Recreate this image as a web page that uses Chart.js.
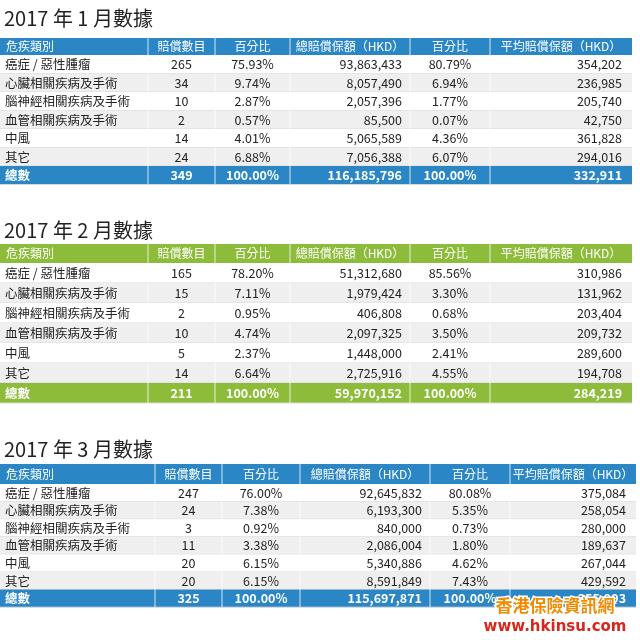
<!DOCTYPE html>
<html><head><meta charset="utf-8">
<script src="https://cdn.jsdelivr.net/npm/chart.js@4"></script>
<style>html,body{margin:0;padding:0;background:#fff}#c{width:640px;height:640px}</style>
</head><body><div id="c"><canvas id="cv" width="640" height="640"></canvas></div>
<script>
const headers = ["危疾類別","賠償數目","百分比","總賠償保額（HKD）","百分比","平均賠償保額（HKD）"];
const categories = ["癌症 / 惡性腫瘤","心臟相關疾病及手術","腦神經相關疾病及手術","血管相關疾病及手術","中風","其它","總數"];
const titles = ["2017 年 1 月數據","2017 年 2 月數據","2017 年 3 月數據"];
const jan = [
 ["265","75.93%","93,863,433","80.79%","354,202"],
 ["34","9.74%","8,057,490","6.94%","236,985"],
 ["10","2.87%","2,057,396","1.77%","205,740"],
 ["2","0.57%","85,500","0.07%","42,750"],
 ["14","4.01%","5,065,589","4.36%","361,828"],
 ["24","6.88%","7,056,388","6.07%","294,016"],
 ["349","100.00%","116,185,796","100.00%","332,911"]];
const feb = [
 ["165","78.20%","51,312,680","85.56%","310,986"],
 ["15","7.11%","1,979,424","3.30%","131,962"],
 ["2","0.95%","406,808","0.68%","203,404"],
 ["10","4.74%","2,097,325","3.50%","209,732"],
 ["5","2.37%","1,448,000","2.41%","289,600"],
 ["14","6.64%","2,725,916","4.55%","194,708"],
 ["211","100.00%","59,970,152","100.00%","284,219"]];
const mar = [
 ["247","76.00%","92,645,832","80.08%","375,084"],
 ["24","7.38%","6,193,300","5.35%","258,054"],
 ["3","0.92%","840,000","0.73%","280,000"],
 ["11","3.38%","2,086,004","1.80%","189,637"],
 ["20","6.15%","5,340,886","4.62%","267,044"],
 ["20","6.15%","8,591,849","7.43%","429,592"],
 ["325","100.00%","115,697,871","100.00%","355,993"]];
const tablesData = [jan, feb, mar];

// layout
const layouts = [
 {titleY:18, top:38, hh:17, rh:18.5, color:"#2b86c5", cols:[0,148,215,290,410,490,632]},
 {titleY:230, top:244, hh:19, rh:20, color:"#8dbb3a", cols:[0,148,215,290,410,490,632]},
 {titleY:449, top:464, hh:20, rh:17.6, color:"#2b86c5", cols:[0,155,222,300,430,510,636]}
];

const tablePlugin = {
 id:'tables',
 afterDraw(chart){
  const ctx = chart.ctx, X = chart.scales.x, Y = chart.scales.y;
  const px = v => X.getPixelForValue(v), py = v => Y.getPixelForValue(v);
  layouts.forEach((L, t) => {
   const data = tablesData[t];
   ctx.fillStyle = "#222"; ctx.font = "20px 'Noto Sans CJK TC'"; ctx.textBaseline="middle"; ctx.textAlign="left";
   ctx.fillText(titles[t], px(4), py(L.titleY));
   // header
   ctx.fillStyle = L.color;
   ctx.fillRect(px(0), py(L.top), px(L.cols[6])-px(0), py(L.top+L.hh)-py(L.top));
   ctx.font = "12px 'Noto Sans CJK TC'"; ctx.fillStyle="#fff";
   headers.forEach((h,i)=>{
     const a=L.cols[i], b=L.cols[i+1];
     if(i===0){ctx.textAlign="left";ctx.fillText(h,px(a+6),py(L.top+L.hh/2));}
     else {ctx.textAlign="center";ctx.fillText(h,px((a+b)/2),py(L.top+L.hh/2));}
   });
   for(let r=0;r<7;r++){
     const y0 = L.top+L.hh+r*L.rh, total = r===6;
     ctx.fillStyle = total ? L.color : (r%2===0 ? "#ffffff" : "#efefef");
     ctx.fillRect(px(0), py(y0), px(L.cols[6])-px(0), py(y0+L.rh)-py(y0));
     ctx.strokeStyle="#d8d8d8"; ctx.lineWidth=1;
     ctx.beginPath(); ctx.moveTo(px(0),py(y0+L.rh)); ctx.lineTo(px(L.cols[6]),py(y0+L.rh)); ctx.stroke();
     const yc = py(y0+L.rh/2);
     ctx.fillStyle = total ? "#fff" : "#222";
     ctx.font = (total?"bold ":"")+"12.5px 'Noto Sans CJK TC'";
     ctx.textAlign="left"; ctx.fillText(categories[r], px(5), yc);
     const row=data[r];
     const cx=[(L.cols[1]+L.cols[2])/2,(L.cols[2]+L.cols[3])/2,L.cols[4]-8,(L.cols[4]+L.cols[5])/2,L.cols[6]-10];
     const al=["center","center","right","center","right"];
     row.forEach((v,i)=>{ctx.textAlign=al[i]; ctx.fillText(v,px(cx[i]),yc);});
   }
   // column separators
   ctx.strokeStyle="rgba(255,255,255,0.8)";
   for(let i=1;i<6;i++){ctx.beginPath();ctx.moveTo(px(L.cols[i]),py(L.top));ctx.lineTo(px(L.cols[i]),py(L.top+L.hh+7*L.rh));ctx.stroke();}
  });
  // watermark
  ctx.textAlign="center"; ctx.font="bold 17px 'Noto Sans CJK TC'";
  ctx.strokeStyle="#fff"; ctx.lineWidth=3; ctx.fillStyle="#f08a00";
  ctx.strokeText("香港保險資訊網", px(555), py(606)); ctx.fillText("香港保險資訊網", px(555), py(606));
  ctx.font="bold 15px 'DejaVu Sans'"; ctx.fillStyle="#d9261c";
  ctx.strokeText("www.hkinsu.com", px(555), py(627)); ctx.fillText("www.hkinsu.com", px(555), py(627));
 }
};

new Chart(document.getElementById('cv'), {
 type:'scatter',
 data:{datasets:[{data:[]}]},
 options:{responsive:false, animation:false, events:[],
  layout:{padding:0},
  plugins:{legend:{display:false},tooltip:{enabled:false}},
  scales:{x:{type:'linear',min:0,max:640,display:false},
          y:{type:'linear',min:0,max:640,reverse:true,display:false}}},
 plugins:[tablePlugin]
});
</script></body></html>
